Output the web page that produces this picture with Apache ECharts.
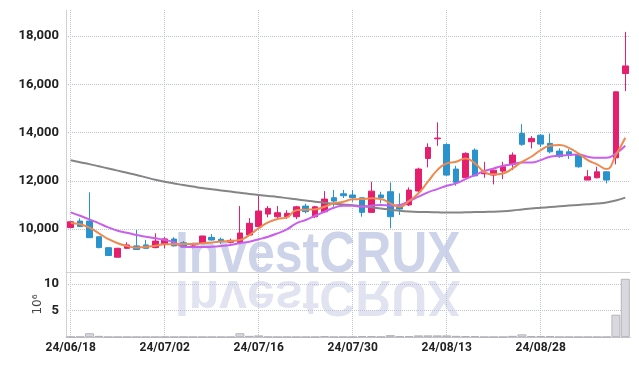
<!DOCTYPE html>
<html>
<head>
<meta charset="utf-8">
<script src="https://cdn.jsdelivr.net/npm/echarts@6/dist/echarts.min.js"></script>
<style>
  html, body { margin: 0; padding: 0; background: #fff; }
  #chart { width: 639px; height: 366px; }
</style>
</head>
<body>
<div id="chart"></div>
<script>
// trading days (KRX)
var dates = [
  '24/06/18', '24/06/19', '24/06/20', '24/06/21', '24/06/24', '24/06/25', '24/06/26', '24/06/27', '24/06/28', '24/07/01',
  '24/07/02', '24/07/03', '24/07/04', '24/07/05', '24/07/08', '24/07/09', '24/07/10', '24/07/11', '24/07/12', '24/07/15',
  '24/07/16', '24/07/17', '24/07/18', '24/07/19', '24/07/22', '24/07/23', '24/07/24', '24/07/25', '24/07/26', '24/07/29',
  '24/07/30', '24/07/31', '24/08/01', '24/08/02', '24/08/05', '24/08/06', '24/08/07', '24/08/08', '24/08/09', '24/08/12',
  '24/08/13', '24/08/14', '24/08/16', '24/08/19', '24/08/20', '24/08/21', '24/08/22', '24/08/23', '24/08/26', '24/08/27',
  '24/08/28', '24/08/29', '24/08/30', '24/09/02', '24/09/03', '24/09/04', '24/09/05', '24/09/06', '24/09/09', '24/09/10'
]

// [open, close, low, high]
var ohlc = [
  [10060, 10300, 10060, 10300], [10330, 10100, 10100, 10440], [10330, 9640, 9640, 11520], [9680, 9230, 9200, 9700],
  [9225, 8900, 8890, 9250], [8830, 9200, 8830, 9220], [9200, 9340, 9180, 9450], [9300, 9150, 9130, 9960],
  [9340, 9200, 9190, 9550], [9230, 9500, 9200, 9820], [9370, 9590, 9200, 9660], [9585, 9300, 9280, 9660],
  [9430, 9250, 9230, 9500], [9240, 9300, 9200, 9340], [9410, 9710, 9400, 9720], [9655, 9545, 9520, 9790],
  [9575, 9475, 9380, 9640], [9450, 9530, 9400, 9600], [9440, 9835, 9430, 10950], [9750, 10235, 9740, 10450],
  [10100, 10745, 10090, 11370], [10620, 10855, 10485, 10950], [10510, 10675, 10450, 10950], [10510, 10650, 10420, 10780],
  [10510, 10920, 10410, 10960], [10950, 10720, 10650, 11050], [10510, 10920, 10450, 10960], [10715, 11240, 10700, 11570],
  [11295, 11160, 10925, 11615], [11460, 11380, 11285, 11615], [11410, 11300, 11130, 11615], [11295, 10690, 10510, 11300],
  [10690, 11570, 10680, 11960], [11410, 11300, 11065, 11545], [11545, 10510, 10030, 11930], [10965, 10830, 10580, 11480],
  [11000, 11615, 10950, 11725], [11575, 12485, 11520, 12540], [12925, 13380, 12555, 13550], [13740, 13770, 13450, 14420],
  [13505, 12235, 12200, 13550], [12485, 11935, 11795, 12620], [12125, 13135, 12100, 13180], [13270, 12205, 12180, 13340],
  [12290, 12320, 12125, 12785], [12235, 12440, 11850, 12460], [12400, 12580, 12070, 12785], [12680, 13065, 12440, 13175],
  [13960, 13510, 13450, 14345], [13615, 13755, 13340, 13850], [13890, 13520, 13400, 13930], [13550, 13200, 13140, 13960],
  [13230, 13000, 12950, 13340], [13200, 13060, 12900, 13310], [13065, 12580, 12540, 13100], [12030, 12165, 12030, 12440],
  [12125, 12370, 12100, 12580], [12370, 12030, 11890, 12400], [12950, 15685, 12680, 15700], [16445, 16760, 15715, 18170]
]

var ma5 = [
  10250, 10195, 10055, 9820, 9585, 9410, 9295, 9225, 9265, 9310,
  9365, 9365, 9380, 9380, 9410, 9440, 9480, 9500, 9545, 9750,
  10030, 10275, 10415, 10485, 10775, 10800, 10815, 10925, 11065, 11130,
  11230, 11240, 11270, 11240, 11065, 10925, 11160, 11480, 11960, 12440,
  12720, 12785, 12925, 12720, 12370, 12265, 12305, 12510, 12785, 12995,
  13270, 13450, 13480, 13365, 13135, 12855, 12680, 12485, 13065, 13780
]

var ma20 = [
  10690, 10550, 10400, 10235, 10070, 9930, 9845, 9750, 9680, 9615,
  9545, 9450, 9265, 9250, 9250, 9265, 9295, 9340, 9410, 9475,
  9575, 9680, 9820, 9985, 10235, 10375, 10550, 10715, 10880, 10965,
  10965, 10925, 10965, 11000, 10965, 11000, 11160, 11340, 11520, 11655,
  11795, 11890, 12070, 12235, 12400, 12510, 12620, 12680, 12760, 12760,
  12855, 12995, 13035, 13065, 13090, 12995, 12950, 12950, 13135, 13450
]

var ma120 = [
  12850, 12770, 12690, 12600, 12510, 12420, 12330, 12240, 12140, 12040,
  11960, 11890, 11820, 11760, 11700, 11650, 11600, 11550, 11500, 11450,
  11410, 11370, 11330, 11280, 11230, 11180, 11130, 11090, 11050, 11020,
  10990, 10950, 10900, 10850, 10800, 10760, 10730, 10710, 10700, 10690,
  10680, 10680, 10690, 10700, 10710, 10720, 10740, 10770, 10810, 10850,
  10880, 10910, 10940, 10970, 11000, 11030, 11060, 11100, 11180, 11300
]

// volume, millions of shares
var volume = [
  0.05, 0.05, 0.7, 0.2, 0.03, 0.03, 0.03, 0.03, 0.03, 0.03,
  0.03, 0.03, 0.03, 0.03, 0.03, 0.03, 0.03, 0.03, 0.7, 0.2,
  0.3, 0.05, 0.03, 0.03, 0.03, 0.03, 0.03, 0.15, 0.03, 0.03,
  0.03, 0.15, 0.15, 0.05, 0.35, 0.15, 0.15, 0.3, 0.3, 0.3,
  0.3, 0.2, 0.15, 0.15, 0.03, 0.03, 0.03, 0.2, 0.5, 0.15,
  0.15, 0.15, 0.03, 0.03, 0.03, 0.03, 0.03, 0.03, 4.2, 11.0
]

var UP = '#e61e6e'
var DOWN = '#2a92cc'
var labelFont = 'Roboto, sans-serif'
var gridDot = { color: '#bfc2d8', type: 'dotted', width: 1 }
var markFont = 'bold 58px "Liberation Sans", Arial, sans-serif'

var chart = echarts.init(document.getElementById('chart'))
var option = {
  animation: false,
  grid: [
    { left: 66, right: 9, top: 10, height: 262 },
    { left: 66, right: 9, top: 272, height: 65 }
  ],
  graphic: [
    {
      type: 'text', x: 175, y: 256, scaleX: 0.86, z: 0, silent: true,
      style: { text: 'InvestCRUX', font: markFont, fill: '#cdd3e8', verticalAlign: 'middle' }
    },
    {
      type: 'text', x: 175, y: 295, scaleX: 0.86, scaleY: -0.85, z: 0, silent: true,
      style: { text: 'InvestCRUX', font: markFont, fill: '#e1e4f0', verticalAlign: 'middle' }
    }
  ],
  xAxis: [
    {
      type: 'category', gridIndex: 0, data: dates,
      axisLine: { lineStyle: { color: '#d0d0d6' } },
      axisTick: { show: false },
      axisLabel: { show: false },
      splitLine: { show: true, interval: 9, alignWithLabel: true, lineStyle: gridDot }
    },
    {
      type: 'category', gridIndex: 1, data: dates,
      axisLine: { lineStyle: { color: '#c4c4cc' } },
      axisTick: { show: false },
      axisLabel: { interval: 9, margin: 5, color: '#222', fontFamily: labelFont, fontWeight: 'bold', fontSize: 12 },
      splitLine: { show: true, interval: 9, alignWithLabel: true, lineStyle: gridDot }
    }
  ],
  yAxis: [
    {
      type: 'value', gridIndex: 0, min: 8218, max: 19078, splitNumber: 5, scale: true,
      axisLine: { show: true, lineStyle: { color: '#d0d0d6' } },
      axisTick: { show: false },
      axisLabel: { showMinLabel: false, showMaxLabel: false, margin: 7, color: '#222', fontFamily: labelFont, fontWeight: 'bold', fontSize: 13 },
      splitLine: { showMinLine: false, showMaxLine: false, lineStyle: gridDot }
    },
    {
      type: 'value', gridIndex: 1, min: 0, max: 12.3, interval: 5,
      name: '10\u2076', nameLocation: 'middle', nameGap: 22, nameRotate: 90, nameMoveOverlap: false,
      nameTextStyle: { color: '#444', fontFamily: 'DejaVu Sans', fontSize: 12 },
      axisLine: { show: true, lineStyle: { color: '#d0d0d6' } },
      axisTick: { show: false },
      axisLabel: { showMinLabel: false, showMaxLabel: false, margin: 7, color: '#222', fontFamily: labelFont, fontWeight: 'bold', fontSize: 13 },
      splitLine: { showMinLine: false, showMaxLine: false, lineStyle: gridDot }
    }
  ],
  series: [
    {
      type: 'candlestick', xAxisIndex: 0, yAxisIndex: 0, data: ohlc, barWidth: 6,
      itemStyle: { color: UP, color0: DOWN, borderColor: UP, borderColor0: DOWN, borderWidth: 1 }
    },
    {
      type: 'line', xAxisIndex: 0, yAxisIndex: 0, data: ma120, smooth: true, showSymbol: false,
      lineStyle: { color: '#858585', width: 2 }
    },
    {
      type: 'line', xAxisIndex: 0, yAxisIndex: 0, data: ma20, smooth: true, showSymbol: false,
      lineStyle: { color: '#c960ea', width: 2 }
    },
    {
      type: 'line', xAxisIndex: 0, yAxisIndex: 0, data: ma5, smooth: true, showSymbol: false,
      lineStyle: { color: '#ee8a50', width: 2 }
    },
    {
      type: 'bar', xAxisIndex: 1, yAxisIndex: 1, data: volume, barCategoryGap: '6%',
      itemStyle: { color: '#d8d8de', borderColor: '#a9a9b2', borderWidth: 0.8 }
    }
  ]
}
chart.setOption(option)
</script>
</body>
</html>
